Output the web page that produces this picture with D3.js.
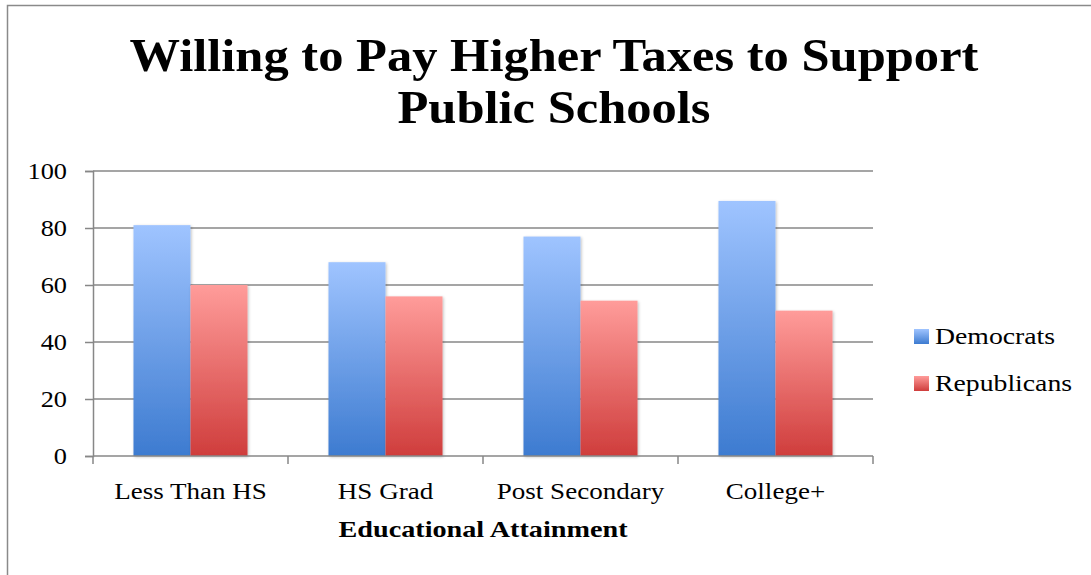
<!DOCTYPE html>
<html>
<head>
<meta charset="utf-8">
<script src="https://cdn.jsdelivr.net/npm/d3@7"></script>
<style>
  html, body { margin: 0; padding: 0; background: #fff; }
  svg { display: block; }
  text { font-family: "Liberation Serif", "DejaVu Serif", serif; fill: #000; }
</style>
</head>
<body>
<svg id="chart" width="1091" height="575"></svg>
<script>
// Share willing to pay higher taxes for public schools, by education and party
const categories = ["Less Than HS", "HS Grad", "Post Secondary", "College+"];
const seriesNames = ["Democrats", "Republicans"];
const democrats = [81, 68, 77, 89.5];
const republicans = [60, 56, 54.5, 51];
const yTicks = [0, 20, 40, 60, 80, 100];
const titleLines = ["Willing to Pay Higher Taxes to Support", "Public Schools"];
const xTitle = "Educational Attainment";

const svg = d3.select("#chart");
const W = 1091, H = 575;
const margin = { left: 93, right: 218, top: 171, bottom: 119 };
const plotW = W - margin.left - margin.right;
const plotH = H - margin.top - margin.bottom;

// widen the serif text a little so it sets like a Cambria-style face
function widen(sel, factor) {
  sel.each(function () {
    const len = this.getComputedTextLength();
    d3.select(this).attr("textLength", len * factor).attr("lengthAdjust", "spacingAndGlyphs");
  });
}

// gradients for bars
const defs = svg.append("defs");
const grads = [
  { id: "gDem", top: "#9fc4ff", bottom: "#3d7bd0" },
  { id: "gRep", top: "#ff9c9a", bottom: "#cf3d3c" }
];
grads.forEach(g => {
  const lg = defs.append("linearGradient").attr("id", g.id)
    .attr("x1", 0).attr("y1", 0).attr("x2", 0).attr("y2", 1);
  lg.append("stop").attr("offset", "0%").attr("stop-color", g.top);
  lg.append("stop").attr("offset", "100%").attr("stop-color", g.bottom);
});
const shadow = defs.append("filter").attr("id", "soft")
  .attr("x", "-10%").attr("y", "-10%").attr("width", "120%").attr("height", "120%");
shadow.append("feGaussianBlur").attr("in", "SourceAlpha").attr("stdDeviation", 1.5).attr("result", "b");
shadow.append("feOffset").attr("in", "b").attr("dx", 1).attr("dy", 1).attr("result", "o");
shadow.append("feComponentTransfer").attr("in", "o").attr("result", "s")
  .append("feFuncA").attr("type", "linear").attr("slope", 0.25);
const fm = shadow.append("feMerge");
fm.append("feMergeNode").attr("in", "s");
fm.append("feMergeNode").attr("in", "SourceGraphic");

// chart frame (top and left edges)
svg.append("path")
  .attr("d", `M7.5,${H} V5.5 H${W}`)
  .attr("fill", "none").attr("stroke", "#8a8a8a").attr("stroke-width", 1.5);

// title
const titleText = svg.selectAll("text.title").data(titleLines).join("text")
  .attr("class", "title")
  .attr("x", 554).attr("y", (d, i) => 71 + i * 52)
  .attr("text-anchor", "middle")
  .style("font-weight", "bold").style("font-size", "47px")
  .text(d => d);
widen(titleText, 1.075);

const g = svg.append("g").attr("transform", `translate(${margin.left},${margin.top})`);

const x = d3.scaleBand().domain(categories).range([0, plotW]).paddingInner(0).paddingOuter(0);
const x1 = d3.scaleBand().domain(seriesNames).range([0, x.bandwidth()]).paddingInner(0).paddingOuter(0.71);
const y = d3.scaleLinear().domain([0, 100]).range([plotH, 0]);

// horizontal gridlines
g.append("g").selectAll("line").data(yTicks.filter(t => t > 0)).join("line")
  .attr("x1", 0).attr("x2", plotW)
  .attr("y1", d => y(d)).attr("y2", d => y(d))
  .attr("stroke", "#878787").attr("stroke-width", 1.5);

// bars
const rows = categories.map((c, i) => ({ cat: c, values: [democrats[i], republicans[i]] }));
const groups = g.append("g").selectAll("g").data(rows).join("g")
  .attr("transform", d => `translate(${x(d.cat)},0)`);
groups.selectAll("rect").data(d => d.values.map((v, j) => ({ name: seriesNames[j], v })))
  .join("rect")
  .attr("x", d => x1(d.name))
  .attr("width", x1.bandwidth())
  .attr("y", d => y(d.v))
  .attr("height", d => plotH - y(d.v))
  .attr("fill", d => d.name === "Democrats" ? "url(#gDem)" : "url(#gRep)")
  .attr("filter", "url(#soft)");

// y axis
const yAxis = g.append("g")
  .call(d3.axisLeft(y).tickValues(yTicks).tickSize(8).tickPadding(18).tickFormat(d3.format("d")));
yAxis.select(".domain").attr("stroke", "#878787").attr("stroke-width", 1.5);
yAxis.selectAll(".tick line").attr("stroke", "#878787").attr("stroke-width", 1.5);
const yLabels = yAxis.selectAll("text")
  .style("font-size", "23.5px").style("font-family", "Liberation Serif, serif").attr("fill", "#000");
widen(yLabels, 1.12);

// x axis with ticks at category boundaries
const xAxisG = g.append("g").attr("transform", `translate(0,${plotH})`);
const bounds = d3.range(categories.length + 1).map(i => i * x.step());
xAxisG.append("line").attr("x1", 0).attr("x2", plotW).attr("y1", 0).attr("y2", 0)
  .attr("stroke", "#878787").attr("stroke-width", 1.5);
xAxisG.selectAll("line.tk").data(bounds).join("line").attr("class", "tk")
  .attr("x1", d => d).attr("x2", d => d).attr("y1", 0).attr("y2", 8)
  .attr("stroke", "#878787").attr("stroke-width", 1.5);
const catLabels = xAxisG.selectAll("text.cat").data(categories).join("text").attr("class", "cat")
  .attr("x", d => x(d) + x.bandwidth() / 2).attr("y", 43)
  .attr("text-anchor", "middle").style("font-size", "23.5px")
  .text(d => d);
widen(catLabels, 1.15);

// x axis title
const xt = g.append("text")
  .attr("x", plotW / 2).attr("y", plotH + 81)
  .attr("text-anchor", "middle")
  .style("font-weight", "bold").style("font-size", "23.5px")
  .text(xTitle);
widen(xt, 1.2);

// legend
const legend = svg.append("g").attr("transform", "translate(914,329)");
const li = legend.selectAll("g").data(seriesNames).join("g")
  .attr("transform", (d, i) => `translate(0,${i * 47})`);
li.append("rect").attr("width", 15).attr("height", 15)
  .attr("fill", (d, i) => i === 0 ? "url(#gDem)" : "url(#gRep)");
const legText = li.append("text").attr("x", 21).attr("y", 15)
  .style("font-size", "23.5px").text(d => d);
widen(legText, 1.18);
</script>
</body>
</html>
